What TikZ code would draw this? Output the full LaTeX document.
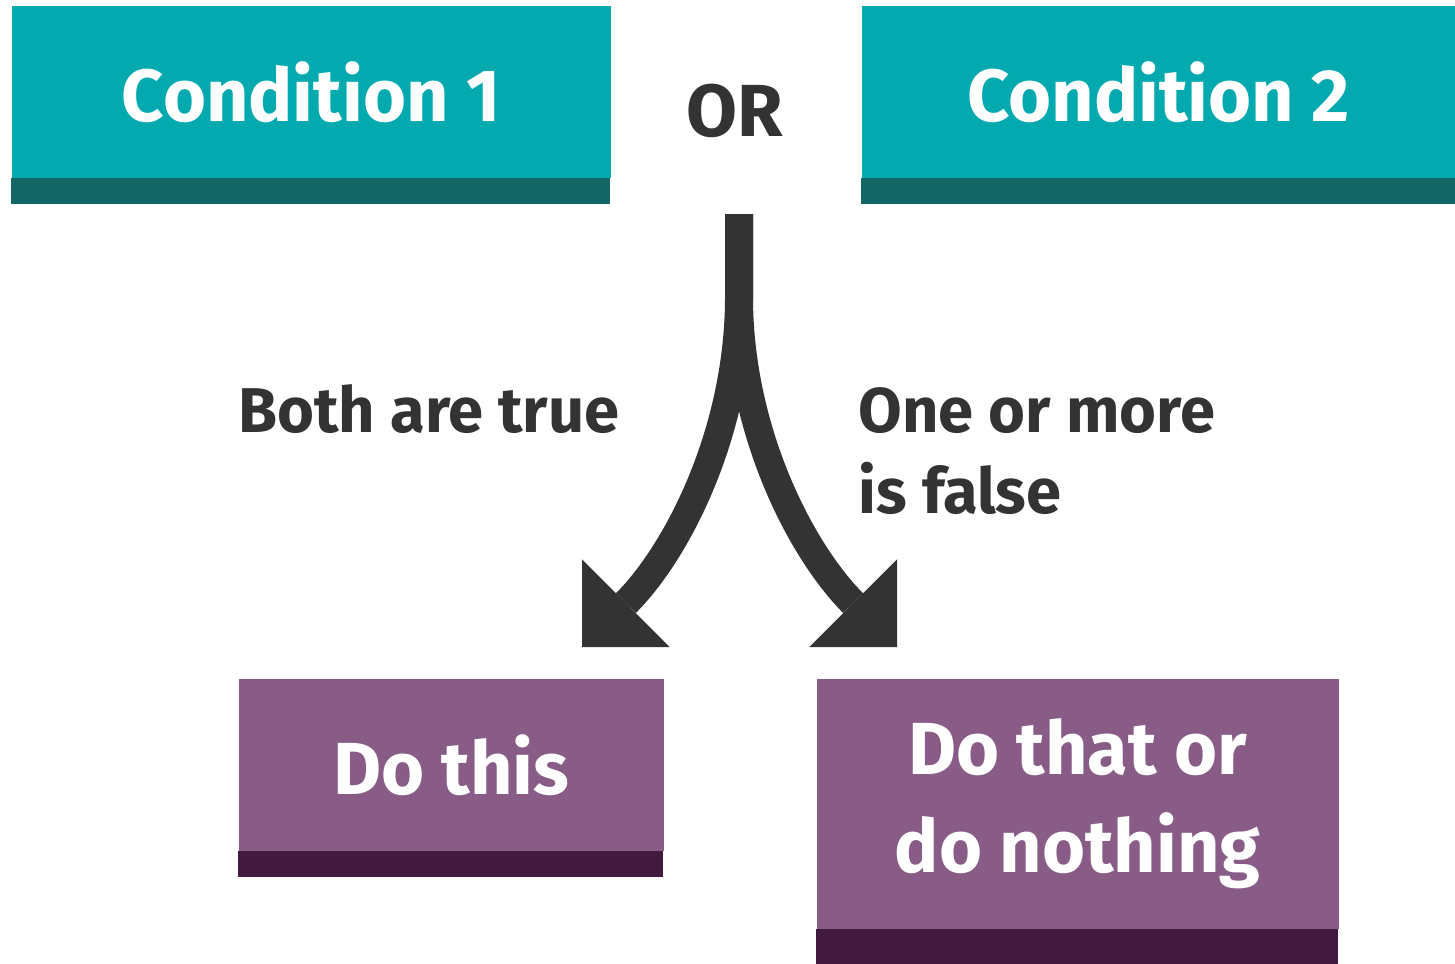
\documentclass[tikz,border=0pt]{standalone}
\usepackage{fontspec}
\setmainfont{Fira Sans}
\usetikzlibrary{arrows.meta, positioning}

\definecolor{tealtop}{HTML}{02AAB0}
\definecolor{tealbar}{HTML}{136666}
\definecolor{plumtop}{HTML}{885C86}
\definecolor{plumbar}{HTML}{421A3F}
\definecolor{inkgrey}{HTML}{333333}

\begin{document}
\begin{tikzpicture}[
    condbox/.style={fill=tealtop, text=white, anchor=north west, inner sep=0pt,
        font=\bfseries\fontsize{21}{28}\selectfont},
    actbox/.style={fill=plumtop, text=white, anchor=north west, inner sep=0pt,
        align=center, font=\bfseries\fontsize{21}{28}\selectfont},
    caption/.style={text=inkgrey, inner sep=0pt, font=\bfseries\fontsize{18}{23}\selectfont},
    branch/.style={draw=inkgrey, line width=2.8mm,
        -{Triangle[length=6.2mm, width=12.4mm, line width=0pt]}}
]
    \useasboundingbox (0,0) rectangle (14.55,9.63);

    % Top boxes
    \node[condbox, minimum width=5.99cm, minimum height=1.72cm] (cond1) at (0.11,9.58) {Condition 1};
    \fill[tealbar] (cond1.south west) rectangle ++(5.99,-0.26);
    \node[condbox, minimum width=5.94cm, minimum height=1.72cm] (cond2) at (8.61,9.58) {Condition 2};
    \fill[tealbar] (cond2.south west) rectangle ++(5.94,-0.26);

    \node[text=inkgrey, font=\bfseries\fontsize{21}{24}\selectfont] (or) at (7.35,8.52) {OR};

    % Split arrow
    \coordinate (stemtop) at (7.39,7.49);
    \coordinate (split) at (7.39,6.66);
    \coordinate (tipL) at (5.82,3.16);
    \coordinate (tipR) at (8.97,3.16);
    \draw[branch] (stemtop) -- (split) to[out=-90, in=45, looseness=0.9] (tipL);
    \draw[branch] (stemtop) -- (split) to[out=-90, in=135, looseness=0.9] (tipR);

    % Labels
    \node[caption, anchor=base] (both) at (4.29,5.31) {Both are true};
    \node[caption, anchor=base west] (one) at (8.58,5.31) {One or more};
    \node[caption, anchor=base west] (false) at (8.58,4.50) {is false};

    % Bottom boxes
    \node[actbox, minimum width=4.25cm, minimum height=1.72cm] (dothis) at (2.38,2.85) {Do this};
    \fill[plumbar] (dothis.south west) rectangle ++(4.25,-0.26);
    \node[actbox, minimum width=5.22cm, minimum height=2.50cm] (dothat) at (8.16,2.85) {Do that or\\do nothing};
    \fill[plumbar] (dothat.south west) rectangle ++(5.22,-0.35);
\end{tikzpicture}
\end{document}
